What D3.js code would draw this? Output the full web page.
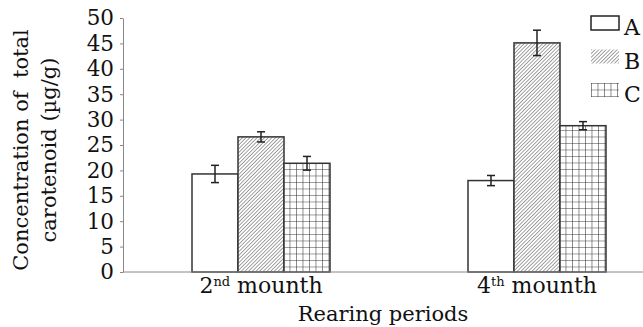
<!DOCTYPE html>
<html>
<head>
<meta charset="utf-8">
<script src="https://cdn.jsdelivr.net/npm/d3@7"></script>
<style>
  body { margin: 0; background: #fff; }
  svg text { font-family: "DejaVu Serif", serif; fill: #111; }
</style>
</head>
<body>
<div id="chart"></div>
<script>
// Data
const periods = ["2nd", "4th"];
const periodMain = ["2", "4"];
const periodSup = ["nd", "th"];
const series = ["A", "B", "C"];
const valuesA = [19.3, 18.0];
const valuesB = [26.6, 45.1];
const valuesC = [21.4, 28.8];
const errA = [1.7, 1.0];
const errB = [1.0, 2.5];
const errC = [1.35, 0.8];
const yTicks = [0, 5, 10, 15, 20, 25, 30, 35, 40, 45, 50];

const width = 643, height = 327;
const plotLeft = 123, plotTop = 18, plotBottom = 272;

const svg = d3.select("#chart").append("svg")
    .attr("width", width)
    .attr("height", height);

// Patterns for B (hatch) and C (grid)
const defs = svg.append("defs");
const hatch = defs.append("pattern")
    .attr("id", "hatch")
    .attr("patternUnits", "userSpaceOnUse")
    .attr("width", 2.6).attr("height", 2.6)
    .attr("patternTransform", "rotate(45)");
hatch.append("rect").attr("width", 2.6).attr("height", 2.6).attr("fill", "#fff");
hatch.append("line").attr("x1", 0).attr("y1", 0).attr("x2", 0).attr("y2", 2.6)
    .attr("stroke", "#555").attr("stroke-width", 1.1);

const grid = defs.append("pattern")
    .attr("id", "grid")
    .attr("patternUnits", "userSpaceOnUse")
    .attr("width", 6.5).attr("height", 6.5);
grid.append("rect").attr("width", 6.5).attr("height", 6.5).attr("fill", "#fff");
grid.append("path").attr("d", "M0,0V6.5M0,0H6.5")
    .attr("stroke", "#333").attr("stroke-width", 1.1).attr("fill", "none");

const fills = { A: "#fff", B: "url(#hatch)", C: "url(#grid)" };

// Scales
const x0 = d3.scaleBand().domain(periods).range([plotLeft, 675])
    .paddingInner(0.5).paddingOuter(0.25);
const x1 = d3.scaleBand().domain(series).range([0, x0.bandwidth()]);
const y = d3.scaleLinear().domain([0, 50]).range([plotBottom, plotTop]);

const table = periods.map((p, i) => ({
    period: p,
    bars: [
        { key: "A", value: valuesA[i], err: errA[i] },
        { key: "B", value: valuesB[i], err: errB[i] },
        { key: "C", value: valuesC[i], err: errC[i] }
    ]
}));

// Bars
const groups = svg.append("g").selectAll("g")
    .data(table)
    .join("g")
    .attr("transform", d => `translate(${x0(d.period)},0)`);

groups.selectAll("rect")
    .data(d => d.bars)
    .join("rect")
    .attr("x", d => x1(d.key))
    .attr("y", d => y(d.value))
    .attr("width", x1.bandwidth())
    .attr("height", d => y(0) - y(d.value))
    .attr("fill", d => fills[d.key])
    .attr("stroke", "#333")
    .attr("stroke-width", 1.5);

// Error bars
const cx = d => x1(d.key) + x1.bandwidth() / 2;
const eb = groups.selectAll("g.err")
    .data(d => d.bars)
    .join("g")
    .attr("class", "err")
    .attr("stroke", "#222")
    .attr("stroke-width", 1.5);
eb.append("line")
    .attr("x1", cx).attr("x2", cx)
    .attr("y1", d => y(d.value + d.err))
    .attr("y2", d => y(d.value - d.err));
eb.append("line")
    .attr("x1", d => cx(d) - 4).attr("x2", d => cx(d) + 4)
    .attr("y1", d => y(d.value + d.err))
    .attr("y2", d => y(d.value + d.err));
eb.append("line")
    .attr("x1", d => cx(d) - 4).attr("x2", d => cx(d) + 4)
    .attr("y1", d => y(d.value - d.err))
    .attr("y2", d => y(d.value - d.err));

// Y axis
const yAxis = svg.append("g")
    .attr("transform", `translate(${plotLeft},0)`)
    .call(d3.axisLeft(y).tickValues(yTicks).tickSize(3).tickPadding(6).tickSizeOuter(0));
yAxis.select(".domain").attr("stroke", "#888");
yAxis.selectAll(".tick line").attr("stroke", "#888");
yAxis.selectAll(".tick text")
    .attr("font-size", 21.5)
    .attr("font-family", "DejaVu Serif")
    .attr("fill", "#111");

// X axis line
svg.append("line")
    .attr("x1", plotLeft).attr("x2", width)
    .attr("y1", plotBottom).attr("y2", plotBottom)
    .attr("stroke", "#888").attr("stroke-width", 1);

// X tick labels with superscripts
const xl = svg.append("g").selectAll("text")
    .data(periods)
    .join("text")
    .attr("x", d => x0(d) + x0.bandwidth() / 2)
    .attr("y", 293)
    .attr("text-anchor", "middle")
    .attr("font-size", 22);
xl.append("tspan").text((d, i) => periodMain[i]);
xl.append("tspan").attr("font-size", 13).attr("dy", -7).text((d, i) => periodSup[i]);
xl.append("tspan").attr("dy", 7).text(" mounth");

// Axis titles
svg.append("text")
    .attr("x", (plotLeft + width) / 2)
    .attr("y", 321)
    .attr("text-anchor", "middle")
    .attr("font-size", 21)
    .text("Rearing periods");

const yt = svg.append("text")
    .attr("transform", "translate(28,150) rotate(-90)")
    .attr("text-anchor", "middle")
    .attr("font-size", 21);
yt.append("tspan").attr("x", 0).attr("y", 0).text("Concentration of  total").style("white-space", "pre");
yt.append("tspan").attr("x", 0).attr("y", 28).text("carotenoid (µg/g)");

// Legend
const legend = svg.append("g").selectAll("g")
    .data(series)
    .join("g")
    .attr("transform", (d, i) => `translate(591,${16 + i * 33.5})`);
legend.append("rect")
    .attr("width", 28).attr("height", 14)
    .attr("fill", d => fills[d])
    .attr("stroke", d => d === "A" ? "#222" : "none")
    .attr("stroke-width", 1.5);
legend.append("text")
    .attr("x", 33).attr("y", 19)
    .attr("font-size", 22)
    .text(d => d);
</script>
</body>
</html>
